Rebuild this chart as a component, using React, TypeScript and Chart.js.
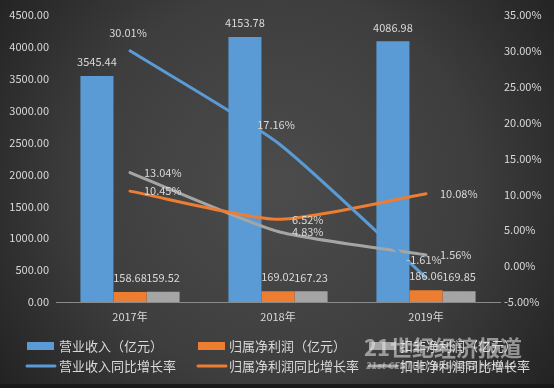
import React, { useEffect, useRef } from "react";
import { Chart, registerables } from "chart.js";

Chart.register(...registerables);

const categories = ["2017年", "2018年", "2019年"];
const revenue = [3545.44, 4153.78, 4086.98];
const netProfit = [158.68, 169.02, 186.06];
const deductedProfit = [159.52, 167.23, 169.85];
const revenueGrowth = [30.01, 17.16, -1.61];
const netProfitGrowth = [10.45, 6.52, 10.08];
const deductedGrowth = [13.04, 4.83, 1.56];

const seriesNames = [
  "营业收入（亿元）",
  "归属净利润（亿元）",
  "扣非净利润（亿元）",
  "营业收入同比增长率",
  "归属净利润同比增长率",
  "扣非净利润同比增长率",
];

const BLUE = "#5b9bd5";
const ORANGE = "#ed7d31";
const GRAY = "#a5a5a5";
const TEXT = "#d9d9d9";
const FONT = '"Noto Sans CJK SC", "Microsoft YaHei", sans-serif';

const bgPlugin = {
  id: "bg",
  beforeDraw(chart: any) {
    const { ctx, width, height } = chart;
    ctx.save();
    const g = ctx.createRadialGradient(width * 0.5, height * 0.48, 10, width * 0.5, height * 0.48, width * 0.62);
    g.addColorStop(0, "#4b4b4b");
    g.addColorStop(0.55, "#3e3e3e");
    g.addColorStop(1, "#222222");
    ctx.fillStyle = g;
    ctx.fillRect(0, 0, width, height);
    ctx.fillStyle = "#1a1a1a";
    ctx.fillRect(0, height - 4, width, 4);
    ctx.restore();
  },
};

const labelPlugin = {
  id: "valueLabels",
  afterDatasetsDraw(chart: any) {
    const { ctx } = chart;
    ctx.save();
    ctx.font = `11px ${FONT}`;
    ctx.fillStyle = TEXT;
    chart.data.datasets.forEach((ds: any, i: number) => {
      const meta = chart.getDatasetMeta(i);
      meta.data.forEach((el: any, j: number) => {
        const v = ds.data[j];
        if (ds.type === "bar") {
          ctx.textAlign = "center";
          ctx.textBaseline = "middle";
          ctx.fillText(v.toFixed(2), el.x, el.y - 14);
        } else if (ds.labelPos === "top") {
          ctx.textAlign = "center";
          ctx.textBaseline = "middle";
          ctx.fillText(v.toFixed(2) + "%", el.x - 2, el.y - 18);
        } else {
          ctx.textAlign = "left";
          ctx.textBaseline = "middle";
          ctx.fillText(v.toFixed(2) + "%", el.x + 14, el.y);
        }
      });
    });
    ctx.restore();
  },
};

const legendPlugin = {
  id: "customLegend",
  afterDraw(chart: any) {
    const { ctx } = chart;
    const swatchX = [27, 198, 369];
    const textX = [59, 229, 400];
    const rowY = [346, 366];
    ctx.save();
    ctx.font = `13px ${FONT}`;
    ctx.textAlign = "left";
    ctx.textBaseline = "middle";
    chart.data.datasets.forEach((ds: any, i: number) => {
      const col = i % 3;
      const row = i < 3 ? 0 : 1;
      const y = rowY[row];
      const color = ds.type === "bar" ? ds.backgroundColor : ds.borderColor;
      if (row === 0) {
        ctx.fillStyle = color;
        ctx.fillRect(swatchX[col], y - 4, 27, 8);
      } else {
        ctx.strokeStyle = color;
        ctx.lineWidth = 3;
        ctx.lineCap = "round";
        ctx.beginPath();
        ctx.moveTo(swatchX[col], y);
        ctx.lineTo(swatchX[col] + 28, y);
        ctx.stroke();
      }
      ctx.fillStyle = TEXT;
      ctx.fillText(ds.label, textX[col], y);
    });
    // watermark
    ctx.fillStyle = "rgba(235,235,235,0.55)";
    ctx.font = `bold 22px ${FONT}`;
    ctx.fillText("21世纪经济报道", 364, 348);
    ctx.font = `italic bold 8px "DejaVu Sans", sans-serif`;
    ctx.fillStyle = "rgba(235,235,235,0.45)";
    ctx.fillText("21st CENTURY BUSINESS HERALD", 366, 367);
    ctx.restore();
  },
};

export default function App() {
  const ref = useRef<HTMLCanvasElement | null>(null);

  useEffect(() => {
    document.body.style.margin = "0";
    const canvas = ref.current;
    if (!canvas) return;
    const chart = new Chart(canvas, {
      type: "bar",
      data: {
        labels: categories,
        datasets: [
          { type: "bar", label: seriesNames[0], data: revenue, backgroundColor: BLUE, yAxisID: "y", order: 2 } as any,
          { type: "bar", label: seriesNames[1], data: netProfit, backgroundColor: ORANGE, yAxisID: "y", order: 2 } as any,
          { type: "bar", label: seriesNames[2], data: deductedProfit, backgroundColor: GRAY, yAxisID: "y", order: 2 } as any,
          {
            type: "line", label: seriesNames[3], data: revenueGrowth, borderColor: BLUE, backgroundColor: BLUE,
            yAxisID: "y1", order: 1, borderWidth: 3, pointRadius: 0, tension: 0.2, borderCapStyle: "round", labelPos: "top",
          } as any,
          {
            type: "line", label: seriesNames[4], data: netProfitGrowth, borderColor: ORANGE, backgroundColor: ORANGE,
            yAxisID: "y1", order: 1, borderWidth: 3, pointRadius: 0, tension: 0.2, borderCapStyle: "round", labelPos: "right",
          } as any,
          {
            type: "line", label: seriesNames[5], data: deductedGrowth, borderColor: GRAY, backgroundColor: GRAY,
            yAxisID: "y1", order: 1, borderWidth: 3, pointRadius: 0, tension: 0.2, borderCapStyle: "round", labelPos: "right",
          } as any,
        ],
      },
      options: {
        responsive: false,
        animation: false,
        devicePixelRatio: 1,
        layout: { padding: { top: 15, bottom: 58, left: 0, right: 0 } },
        datasets: { bar: { categoryPercentage: 0.67, barPercentage: 1.0 } } as any,
        plugins: { legend: { display: false }, tooltip: { enabled: false } },
        scales: {
          x: {
            grid: { display: false, drawTicks: false },
            border: { display: true, color: "#8a8a8a", width: 1 },
            ticks: { color: TEXT, font: { family: FONT, size: 11 }, padding: 8 },
            afterFit: (s: any) => { s.height = 28; },
          },
          y: {
            position: "left",
            min: 0,
            max: 4500,
            grid: { display: false, drawTicks: false },
            border: { display: false },
            ticks: { stepSize: 500, color: TEXT, font: { family: FONT, size: 11 }, padding: 7, callback: (v: any) => Number(v).toFixed(2) },
            afterFit: (s: any) => { s.width = 56; },
          },
          y1: {
            position: "right",
            min: -5,
            max: 35,
            grid: { display: false, drawTicks: false },
            border: { display: false },
            ticks: { stepSize: 5, color: TEXT, font: { family: FONT, size: 11 }, padding: 4, callback: (v: any) => Number(v).toFixed(2) + "%" },
            afterFit: (s: any) => { s.width = 54; },
          },
        },
      },
      plugins: [bgPlugin, labelPlugin, legendPlugin],
    });
    return () => chart.destroy();
  }, []);

  return <canvas ref={ref} width={554} height={388} style={{ display: "block" }} />;
}
